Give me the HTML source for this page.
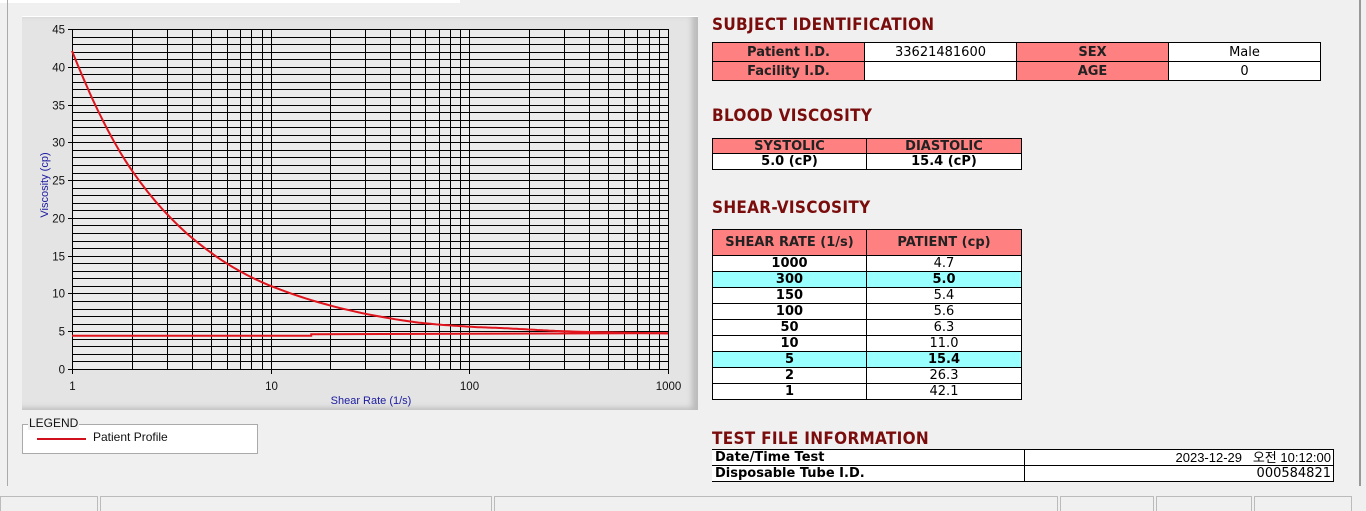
<!DOCTYPE html>
<html><head><meta charset="utf-8">
<style>
body{margin:0;width:1366px;height:508px;background:#f0f0f0;position:relative;overflow:hidden;font-family:"Liberation Sans",sans-serif}
.a{position:absolute}
.h{position:absolute;color:#7a0c0c;font-weight:bold;font-size:17px;font-family:"DejaVu Sans Condensed","DejaVu Sans","Liberation Sans",sans-serif;letter-spacing:0.3px}
table{position:absolute;border-collapse:collapse;font-family:"DejaVu Sans","Liberation Sans",sans-serif;font-size:13px}
td{border:1px solid #000;padding:0;text-align:center;line-height:1}
.p{background:#ff8080;font-weight:bold;color:#222}
.w{background:#fff}
.c{background:#99ffff}
.b{font-weight:bold}
</style></head><body>
<div class="a" style="left:0;top:0;width:460px;height:3px;background:#fff"></div>
<div class="a" style="left:7px;top:0;width:1px;height:486px;background:#aaa"></div>
<div class="a" style="left:1359px;top:0;width:2px;height:486px;background:#999"></div>
<div class="a" style="left:22px;top:16px;width:676px;height:393px;background:#e4e4e4;box-shadow:inset -6px -2px 6px #bbb;border-top:1px solid #fff"></div>
<svg class="a" style="left:0;top:0" width="700" height="420" id="s"></svg>
<div class="a" style="left:22px;top:424px;width:234px;height:28px;background:#fff;border:1px solid #aaa"></div>
<div class="a" style="left:28px;top:416px;background:#f0f0f0;font-size:12px;padding:0 1px;color:#111">LEGEND</div>
<div class="a" style="left:37px;top:438px;width:49px;height:2px;background:#d0101c"></div>
<div class="a" style="left:93px;top:430px;font-size:12px;color:#111">Patient Profile</div>

<div class="h" style="left:712px;top:15px">SUBJECT IDENTIFICATION</div>
<table style="left:712px;top:42px;width:609px">
<tr style="height:19px"><td class="p" style="width:151px">Patient I.D.</td><td class="w" style="width:151px">33621481600</td><td class="p" style="width:151px">SEX</td><td class="w">Male</td></tr>
<tr style="height:19px"><td class="p">Facility I.D.</td><td class="w"></td><td class="p">AGE</td><td class="w">0</td></tr>
</table>
<div class="h" style="left:712px;top:106px">BLOOD VISCOSITY</div>
<table style="left:712px;top:138px;width:310px">
<tr style="height:15px"><td class="p" style="width:153px">SYSTOLIC</td><td class="p">DIASTOLIC</td></tr>
<tr style="height:16px"><td class="w b">5.0 (cP)</td><td class="w b">15.4 (cP)</td></tr>
</table>
<div class="h" style="left:712px;top:198px">SHEAR-VISCOSITY</div>
<table style="left:712px;top:229px;width:310px">
<tr style="height:26px"><td class="p" style="width:153px">SHEAR RATE (1/s)</td><td class="p">PATIENT (cp)</td></tr>
<tr style="height:16px"><td class="w b">1000</td><td class="w">4.7</td></tr>
<tr style="height:16px"><td class="c b">300</td><td class="c b">5.0</td></tr>
<tr style="height:16px"><td class="w b">150</td><td class="w">5.4</td></tr>
<tr style="height:16px"><td class="w b">100</td><td class="w">5.6</td></tr>
<tr style="height:16px"><td class="w b">50</td><td class="w">6.3</td></tr>
<tr style="height:16px"><td class="w b">10</td><td class="w">11.0</td></tr>
<tr style="height:16px"><td class="c b">5</td><td class="c b">15.4</td></tr>
<tr style="height:16px"><td class="w b">2</td><td class="w">26.3</td></tr>
<tr style="height:16px"><td class="w b">1</td><td class="w">42.1</td></tr>
</table>
<div class="h" style="left:712px;top:429px">TEST FILE INFORMATION</div>
<table style="left:712px;top:449px;width:622px;font-weight:bold">
<tr style="height:16px"><td class="w" style="width:309px;text-align:left;padding-left:3px;border-left:none">Date/Time Test</td><td class="w" style="text-align:right;font-weight:normal;padding-right:2px;font-family:'Liberation Sans','Noto Sans CJK KR',sans-serif">2023-12-29 &nbsp; 오전 10:12:00</td></tr>
<tr style="height:16px"><td class="w" style="text-align:left;padding-left:3px;border-left:none">Disposable Tube I.D.</td><td class="w" style="text-align:right;font-weight:normal;padding-right:2px">000584821</td></tr>
</table>
<div class="a" style="left:0;top:496px;width:96px;height:14px;border:1px solid #bbb;border-bottom:none"></div>
<div class="a" style="left:100px;top:496px;width:390px;height:14px;border:1px solid #bbb;border-bottom:none"></div>
<div class="a" style="left:494px;top:496px;width:562px;height:14px;border:1px solid #bbb;border-bottom:none"></div>
<div class="a" style="left:1060px;top:496px;width:92px;height:14px;border:1px solid #bbb;border-bottom:none"></div>
<div class="a" style="left:1156px;top:496px;width:94px;height:14px;border:1px solid #bbb;border-bottom:none"></div>
<div class="a" style="left:1254px;top:496px;width:96px;height:14px;border:1px solid #bbb;border-bottom:none"></div>
<script>
var s=document.getElementById('s'),h='';
var L=72,R=668,T=29,B=369,D=(R-L)/3;
function X(v){return L+Math.log10(v)*D}
function Y(v){return B-v*(B-T)/45}
function c(v){return Math.round(v)+0.5}
h+='<rect x="'+L+'" y="'+T+'" width="'+(R-L)+'" height="'+(B-T)+'" fill="#ebebeb"/><g shape-rendering="crispEdges">';
for(var i=0;i<=45;i++){var y=c(Y(i));h+='<line x1="'+L+'" x2="'+R+'" y1="'+y+'" y2="'+y+'" stroke="#000" stroke-width="1"/>';}
for(var d=0;d<3;d++)for(var k=1;k<10;k++){var x=c(X(k*Math.pow(10,d)));h+='<line x1="'+x+'" x2="'+x+'" y1="'+T+'" y2="'+B+'" stroke="#000"/>';}
h+='<line x1="'+c(R)+'" x2="'+c(R)+'" y1="'+T+'" y2="'+B+'" stroke="#000"/>';
for(var i=0;i<=45;i+=5){var y=c(Y(i));h+='<line x1="'+(L-4)+'" x2="'+L+'" y1="'+y+'" y2="'+y+'" stroke="#000"/><text x="'+(L-7)+'" y="'+(y+4)+'" font-size="11.5" text-anchor="end" font-family="Liberation Sans" fill="#111">'+i+'</text>';}
[1,10,100,1000].forEach(function(v){var x=c(X(v));h+='<line x1="'+x+'" x2="'+x+'" y1="'+B+'" y2="'+(B+5)+'" stroke="#000"/><text x="'+x+'" y="'+(B+21)+'" font-size="11.5" text-anchor="middle" font-family="Liberation Sans" fill="#111">'+v+'</text>';});
h+='</g><text x="371" y="404" font-size="11" text-anchor="middle" font-family="Liberation Sans" fill="#1a1aa0">Shear Rate (1/s)</text>';
h+='<text transform="translate(48,185) rotate(-90)" font-size="11" text-anchor="middle" font-family="Liberation Sans" fill="#1a1aa0">Viscosity (cp)</text>';
var px=[1,2,5,10,50,100,150,300,1000],py=[42.1,26.3,15.4,11.0,6.3,5.6,5.4,5.0,4.7];
var lx=px.map(function(v){return Math.log10(v)}),ly=py.map(function(v){return Math.log(v)});
var n=lx.length,m=[];
for(var i=0;i<n;i++){if(i==0)m[i]=(ly[1]-ly[0])/(lx[1]-lx[0]);else if(i==n-1)m[i]=(ly[n-1]-ly[n-2])/(lx[n-1]-lx[n-2]);else m[i]=((ly[i+1]-ly[i])/(lx[i+1]-lx[i])+(ly[i]-ly[i-1])/(lx[i]-lx[i-1]))/2;}
var pts=[];
for(var i=0;i<n-1;i++){var hh=lx[i+1]-lx[i];for(var t=0;t<1;t+=0.05){var t2=t*t,t3=t2*t;var v=(2*t3-3*t2+1)*ly[i]+(t3-2*t2+t)*hh*m[i]+(-2*t3+3*t2)*ly[i+1]+(t3-t2)*hh*m[i+1];pts.push(X(Math.pow(10,lx[i]+t*hh)).toFixed(1)+','+Y(Math.exp(v)).toFixed(1));}}
pts.push(R+','+Y(4.7).toFixed(1));
h+='<polyline points="'+pts.join(' ')+'" fill="none" stroke="#e0141c" stroke-width="2"/>';
h+='<polyline points="'+L+','+Y(4.4)+' '+X(16)+','+Y(4.4)+' '+X(16)+','+Y(4.6)+' '+R+','+Y(4.75)+'" fill="none" stroke="#e0141c" stroke-width="2"/>';
s.innerHTML=h;
</script>
</body></html>
